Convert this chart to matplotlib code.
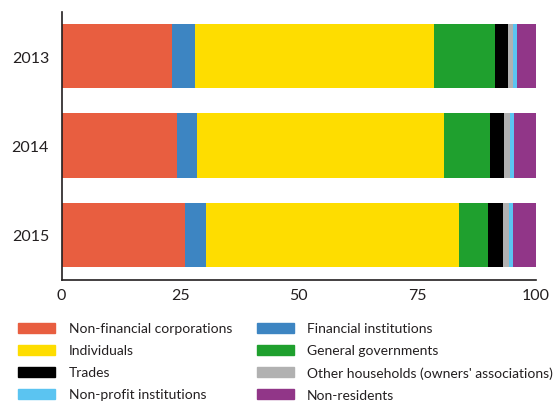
import matplotlib
matplotlib.use("Agg")
import matplotlib.pyplot as plt
from matplotlib.patches import Patch
import numpy as np

plt.rcParams["font.family"] = ["Lato", "DejaVu Sans"]

years = ["2013", "2014", "2015"]
sectors = [
    "Non-financial corporations",
    "Financial institutions",
    "Individuals",
    "General governments",
    "Trades",
    "Other households (owners' associations)",
    "Non-profit institutions",
    "Non-residents",
]
colors = ["#E85E40", "#3D85C2", "#FEDD00", "#1FA02E",
          "#000000", "#B1B1B1", "#5BC4F1", "#913688"]

# share of each holder sector, in percent, per year
nfc = [23.3, 24.4, 26.1]
fin = [4.9, 4.2, 4.4]
ind = [50.4, 52.1, 53.3]
gov = [12.8, 9.6, 6.1]
trades = [2.7, 3.0, 3.1]
other_hh = [1.0, 1.2, 1.3]
npi = [0.9, 0.9, 0.9]
nonres = [4.0, 4.6, 4.8]
shares = [nfc, fin, ind, gov, trades, other_hh, npi, nonres]

fig = plt.figure(figsize=(5.58, 4.02), dpi=100)
ax = fig.add_axes([61.5 / 558, 1 - 280.5 / 402, 474.5 / 558, 268 / 402])

y = np.arange(len(years))
left = np.zeros(len(years))
for vals, col, name in zip(shares, colors, sectors):
    ax.barh(y, vals, left=left, height=0.72, color=col, label=name)
    left += np.array(vals)

ax.set_ylim(2.5, -0.5)
ax.set_xlim(0, 100)
ax.set_yticks(y)
ax.set_yticklabels(years)
ax.set_xticks([0, 25, 50, 75, 100])
ax.tick_params(axis="both", length=0, labelsize=11.5, colors="#231F20")
ax.tick_params(axis="y", pad=9)
ax.tick_params(axis="x", pad=6)
for s in ["top", "right"]:
    ax.spines[s].set_visible(False)
for s in ["left", "bottom"]:
    ax.spines[s].set_linewidth(1.2)
    ax.spines[s].set_color("#231F20")

# legend fills row by row: reorder for column-major layout
order = [0, 2, 4, 6, 1, 3, 5, 7]
handles = [Patch(color=colors[i]) for i in order]
labels = [sectors[i] for i in order]
leg = fig.legend(handles, labels, ncol=2, loc="upper left",
                 bbox_to_anchor=(18.3 / 558, 1 - 323.5 / 402),
                 frameon=False, fontsize=10, borderpad=0, borderaxespad=0,
                 handlelength=2.66, handleheight=0.76, handletextpad=0.96,
                 labelspacing=0.72, columnspacing=1.78)
for t in leg.get_texts():
    t.set_color("#231F20")

fig.savefig("out.png", dpi=100)
